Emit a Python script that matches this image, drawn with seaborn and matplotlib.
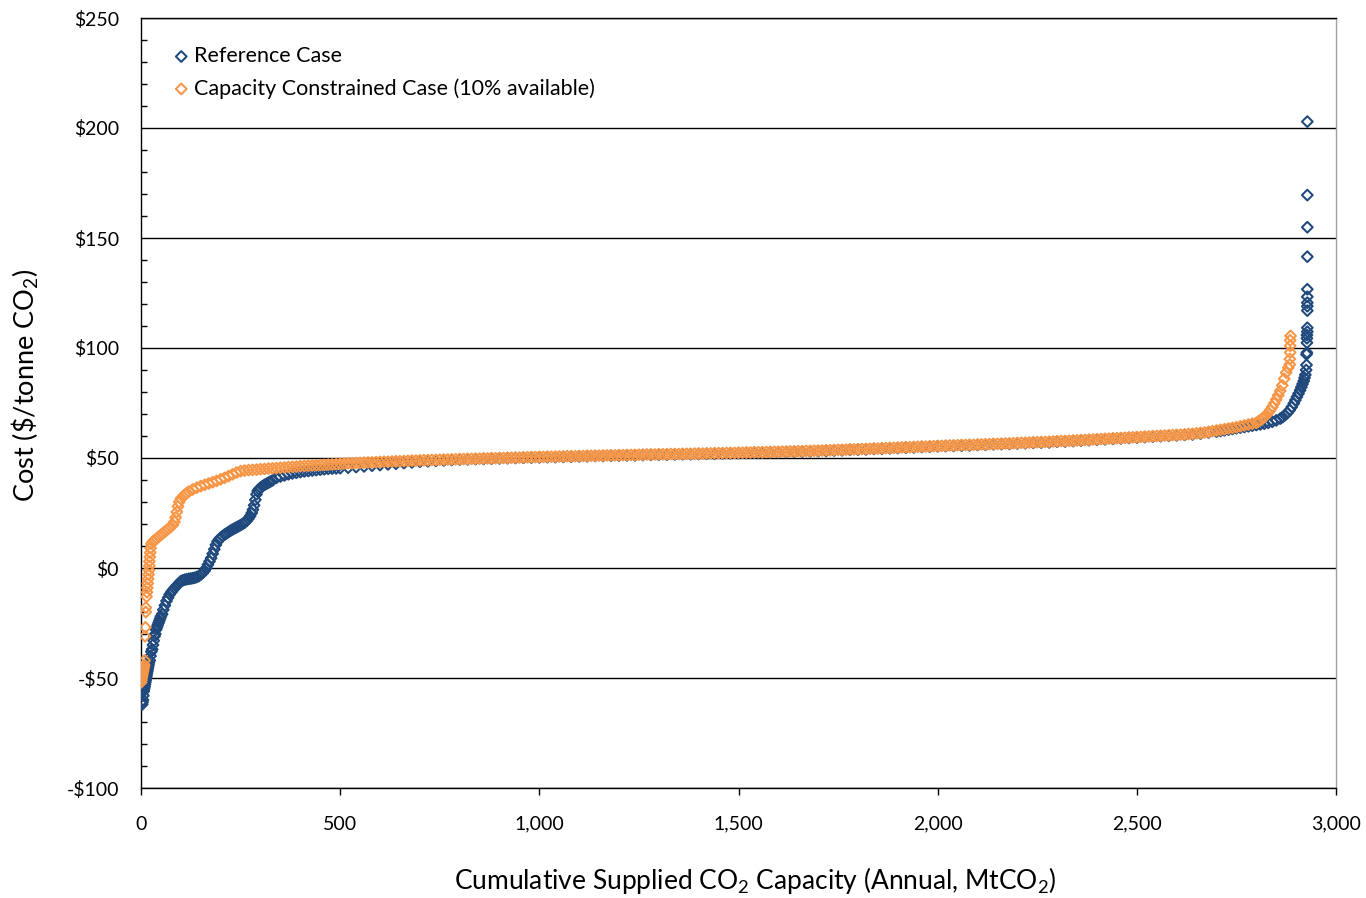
import numpy as np
import pandas as pd
import matplotlib
matplotlib.use("Agg")
import matplotlib.pyplot as plt
import seaborn as sns
from matplotlib.ticker import FuncFormatter, MultipleLocator

# ---------------- data ----------------
series_names = ["Reference Case", "Capacity Constrained Case (10% available)"]
series_colors = ["#1F497D", "#F79646"]

ref_capacity = [
    3, 4, 5, 6, 7, 8, 9, 10, 11, 12, 13, 14, 15, 16, 17, 18, 19, 20,
    22, 24, 26, 28, 30, 32, 34, 36, 38, 40, 42, 44, 46, 48, 50,
    53, 56, 60, 64, 68, 72, 76, 80,
    85, 90, 95, 100, 105, 110, 115, 120, 125, 130, 135, 140, 145, 150, 155, 160,
    164, 168, 172, 176, 180, 184, 188, 192, 196,
    200, 205, 210, 215, 220, 225, 230, 235, 240, 245, 250, 255, 260, 265, 270,
    274, 278, 281, 284, 287, 290, 293, 296,
    300, 305, 310, 315, 320, 325, 330,
    340, 350, 360, 370, 380, 390, 400, 410, 420, 430, 440, 450, 460, 470, 480, 490,
    500, 520, 540, 560, 580, 600, 620, 640, 660, 680,
    700, 720, 740, 760, 780, 800, 820, 840, 860, 880,
    900, 920, 940, 960, 980, 1000, 1020, 1040, 1060, 1080,
    1100, 1120, 1140, 1160, 1180, 1200, 1220, 1240, 1260, 1280,
    1300, 1320, 1340, 1360, 1380, 1400, 1420, 1440, 1460, 1480,
    1500, 1520, 1540, 1560, 1580, 1600, 1620, 1640, 1660, 1680,
    1700, 1720, 1740, 1760, 1780, 1800, 1820, 1840, 1860, 1880,
    1900, 1920, 1940, 1960, 1980, 2000, 2020, 2040, 2060, 2080,
    2100, 2120, 2140, 2160, 2180, 2200, 2220, 2240, 2260, 2280,
    2300, 2320, 2340, 2360, 2380, 2400, 2420, 2440, 2460, 2480,
    2500, 2520, 2540, 2560, 2580, 2600, 2620, 2640, 2660, 2680,
    2700, 2710, 2720, 2730, 2740, 2750, 2760, 2770, 2780, 2790,
    2800, 2810, 2820, 2830, 2840, 2850, 2860,
    2866, 2872, 2878, 2884, 2889, 2894, 2898, 2902, 2906, 2910,
    2913, 2916, 2919, 2921, 2923,
    2925, 2926, 2926, 2927, 2927, 2927, 2927, 2928, 2928, 2928, 2928, 2928,
    2928, 2928, 2928, 2928, 2928, 2928,
]
ref_cost = [
    -62, -61, -60, -58, -56, -55, -54, -53, -52, -51, -50, -49, -48, -47, -46, -45, -44, -43,
    -42, -40, -38, -37, -35, -33, -31, -30, -28, -27, -26, -25, -24, -23, -22,
    -21, -19, -17, -15, -13.5, -12, -11, -10,
    -9, -8, -7, -6, -5.6, -5.3, -5.1, -4.9, -4.8, -4.6, -4.4, -4.1, -3.7, -3.0, -2.2, -1.2,
    0, 1.5, 3, 4.5, 6.5, 8.5, 10.5, 12, 13,
    13.8, 14.5, 15.2, 15.8, 16.4, 17, 17.5, 18, 18.5, 19, 19.5, 20, 20.6, 21.4, 22.5,
    23.6, 25, 26.5, 28.5, 31, 33.5, 35, 35.8,
    36.5, 37.2, 37.8, 38.3, 38.8, 39.3, 39.8,
    41, 41.6, 42.1, 42.6, 43, 43.3, 43.6, 43.9, 44.1, 44.3, 44.5, 44.7, 44.9, 45.1, 45.2, 45.3,
    45.4, 45.6, 45.9, 46.2, 46.5, 46.8, 47.1, 47.4, 47.7, 48.0,
    48.3, 48.5, 48.7, 48.9, 49.1, 49.3, 49.4, 49.5, 49.6, 49.7,
    49.8, 49.9, 50.0, 50.1, 50.2, 50.3, 50.4, 50.4, 50.5, 50.6,
    50.7, 50.8, 50.9, 50.9, 51.0, 51.1, 51.2, 51.2, 51.3, 51.4,
    51.5, 51.5, 51.6, 51.7, 51.7, 51.8, 51.9, 51.9, 52.0, 52.1,
    52.2, 52.3, 52.4, 52.4, 52.6, 52.6, 52.7, 52.8, 52.9, 53.0,
    53.1, 53.2, 53.4, 53.5, 53.7, 53.8, 53.9, 54.1, 54.2, 54.4,
    54.5, 54.7, 54.8, 55.0, 55.1, 55.3, 55.4, 55.5, 55.6, 55.7,
    55.9, 56.0, 56.2, 56.3, 56.4, 56.6, 56.7, 56.9, 57.0, 57.1,
    57.4, 57.5, 57.7, 57.9, 58.1, 58.3, 58.5, 58.7, 58.9, 59.1,
    59.3, 59.5, 59.7, 59.9, 60.1, 60.3, 60.5, 60.7, 61.1, 61.6,
    62.0, 62.3, 62.6, 62.9, 63.2, 63.5, 63.8, 64.1, 64.4, 64.7,
    65.0, 65.3, 65.6, 66.0, 66.5, 67.1, 67.9,
    68.6, 69.5, 70.5, 71.8, 73.2, 74.8, 76.3, 77.8, 79.3, 80.8,
    82.2, 83.6, 85.0, 86.4, 87.8,
    90, 92.3, 97.1, 97.9, 102.4, 104.4, 105.9, 107.4, 109.2, 117, 119, 120.6,
    123.3, 126.7, 141.5, 154.9, 169.5, 202.9,
]

cc_capacity = [
    0, 1, 2, 3, 4, 5, 6, 7, 8, 9, 10, 11, 12, 12,
    14, 15, 16, 17, 18, 19, 20, 21, 21, 22, 23, 24, 26,
    30, 35, 40, 45, 50, 55, 60, 65, 70, 75, 80, 84, 87, 90, 93, 96,
    100, 105, 110, 115, 120,
    130, 140, 150, 160, 170, 180, 190, 200, 210, 220, 230, 240, 250, 260, 270, 280,
    290, 300, 310, 320, 330, 340, 350, 360, 370, 380, 390, 400, 410, 420, 430, 440,
    450, 460, 470, 480, 490,
    500, 510, 520, 530, 540, 550, 560, 570, 580, 590,
    600, 610, 620, 630, 640, 650, 660, 670, 680, 690,
    700, 710, 720, 730, 740, 750, 760, 770, 780, 790,
    800, 810, 820, 830, 840, 850, 860, 870, 880, 890,
    900, 910, 920, 930, 940, 950, 960, 970, 980, 990,
    1000, 1010, 1020, 1030, 1040, 1050, 1060, 1070, 1080, 1090,
    1100, 1110, 1120, 1130, 1140, 1150, 1160, 1170, 1180, 1190,
    1200, 1210, 1220, 1230, 1240, 1250, 1260, 1270, 1280, 1290,
    1300, 1310, 1320, 1330, 1340, 1350, 1360, 1370, 1380, 1390,
    1400, 1410, 1420, 1430, 1440, 1450, 1460, 1470, 1480, 1490,
    1500, 1510, 1520, 1530, 1540, 1550, 1560, 1570, 1580, 1590,
    1600, 1610, 1620, 1630, 1640, 1650, 1660, 1670, 1680, 1690,
    1700, 1710, 1720, 1730, 1740, 1750, 1760, 1770, 1780, 1790,
    1800, 1810, 1820, 1830, 1840, 1850, 1860, 1870, 1880, 1890,
    1900, 1910, 1920, 1930, 1940, 1950, 1960, 1970, 1980, 1990,
    2000, 2010, 2020, 2030, 2040, 2050, 2060, 2070, 2080, 2090,
    2100, 2110, 2120, 2130, 2140, 2150, 2160, 2170, 2180, 2190,
    2200, 2210, 2220, 2230, 2240, 2250, 2260, 2270, 2280, 2290,
    2300, 2310, 2320, 2330, 2340, 2350, 2360, 2370, 2380, 2390,
    2400, 2410, 2420, 2430, 2440, 2450, 2460, 2470, 2480, 2490,
    2500, 2510, 2520, 2530, 2540, 2550, 2560, 2570, 2580, 2590,
    2600, 2610, 2620, 2630, 2640, 2650, 2660, 2670, 2680, 2690,
    2700, 2710, 2720, 2730, 2740, 2750, 2760, 2770, 2780, 2790,
    2800, 2805, 2810, 2815, 2820, 2825, 2830, 2835, 2840, 2845,
    2850, 2855, 2860, 2865, 2870, 2875, 2880,
    2884, 2884, 2885, 2885, 2885, 2886,
]
cc_cost = [
    -52, -51, -50, -49, -48, -47, -46, -45, -44, -42, -31, -27, -20, -18,
    -13, -11, -9, -7, -5, -3, -1, 1, 3, 5, 7, 9, 11,
    12, 12.8, 13.5, 14.3, 15, 15.8, 16.5, 17.3, 18, 18.8, 19.6, 21, 23, 25.5, 28, 30,
    31.5, 32.5, 33.3, 34, 34.7,
    35.7, 36.5, 37.2, 37.8, 38.4, 39, 39.6, 40.3, 41, 41.8, 42.6, 43.4, 44, 44.3, 44.5, 44.6,
    44.7, 44.9, 45.0, 45.2, 45.3, 45.4, 45.6, 45.7, 45.9, 46.0, 46.1, 46.3, 46.4, 46.5, 46.6, 46.7,
    46.8, 46.9, 47.0, 47.1, 47.2,
    47.4, 47.5, 47.6, 47.6, 47.7, 47.8, 47.9, 48.0, 48.0, 48.1,
    48.2, 48.3, 48.3, 48.4, 48.5, 48.5, 48.6, 48.7, 48.8, 48.8,
    48.9, 49.0, 49.0, 49.1, 49.1, 49.2, 49.3, 49.3, 49.4, 49.4,
    49.5, 49.5, 49.6, 49.6, 49.7, 49.7, 49.8, 49.8, 49.9, 49.9,
    50.0, 50.0, 50.1, 50.1, 50.2, 50.2, 50.3, 50.3, 50.4, 50.4,
    50.5, 50.5, 50.6, 50.6, 50.6, 50.7, 50.7, 50.8, 50.8, 50.8,
    50.9, 50.9, 51.0, 51.0, 51.0, 51.1, 51.1, 51.2, 51.2, 51.2,
    51.3, 51.3, 51.4, 51.4, 51.4, 51.5, 51.5, 51.6, 51.6, 51.6,
    51.7, 51.7, 51.7, 51.8, 51.8, 51.8, 51.9, 51.9, 51.9, 52.0,
    52.0, 52.0, 52.1, 52.1, 52.2, 52.2, 52.2, 52.3, 52.3, 52.3,
    52.4, 52.4, 52.5, 52.5, 52.6, 52.6, 52.6, 52.7, 52.7, 52.8,
    52.8, 52.9, 52.9, 53.0, 53.0, 53.1, 53.1, 53.2, 53.2, 53.3,
    53.3, 53.4, 53.5, 53.5, 53.6, 53.7, 53.7, 53.8, 53.9, 53.9,
    54.0, 54.1, 54.1, 54.2, 54.3, 54.3, 54.4, 54.5, 54.6, 54.6,
    54.7, 54.8, 54.9, 54.9, 55.0, 55.1, 55.2, 55.2, 55.3, 55.4,
    55.5, 55.5, 55.6, 55.7, 55.7, 55.8, 55.9, 55.9, 56.0, 56.0,
    56.1, 56.2, 56.2, 56.3, 56.4, 56.4, 56.5, 56.6, 56.6, 56.7,
    56.8, 56.9, 56.9, 57.0, 57.1, 57.2, 57.2, 57.3, 57.4, 57.5,
    57.6, 57.7, 57.7, 57.8, 57.9, 58.0, 58.1, 58.2, 58.3, 58.4,
    58.5, 58.6, 58.7, 58.8, 58.9, 59.0, 59.1, 59.2, 59.3, 59.4,
    59.5, 59.6, 59.7, 59.8, 59.9, 60.0, 60.1, 60.2, 60.3, 60.4,
    60.5, 60.6, 60.7, 60.9, 61.0, 61.2, 61.4, 61.6, 61.9, 62.2,
    62.5, 62.8, 63.1, 63.4, 63.7, 64.0, 64.4, 64.8, 65.2, 65.6,
    66.0, 66.6, 67.2, 67.9, 68.6, 69.5, 70.6, 71.8, 73.2, 74.8,
    76.6, 78.5, 80.5, 83.0, 86.0, 88.8, 91.0,
    92.5, 95.0, 98.0, 101.0, 103.5, 105.5,
]

x_ticks = [0, 500, 1000, 1500, 2000, 2500, 3000]
y_ticks = [-100, -50, 0, 50, 100, 150, 200, 250]

# ---------------- figure ----------------
sns.set_style("white")
plt.rcParams["font.family"] = ["Lato", "DejaVu Sans"]
plt.rcParams["mathtext.fontset"] = "custom"
plt.rcParams["mathtext.rm"] = "Lato"
plt.rcParams["mathtext.default"] = "regular"
plt.rcParams["text.color"] = "black"
plt.rcParams["axes.labelcolor"] = "black"
plt.rcParams["xtick.color"] = "black"
plt.rcParams["ytick.color"] = "black"

df = pd.concat([
    pd.DataFrame({"capacity": ref_capacity, "cost": ref_cost, "case": series_names[0]}),
    pd.DataFrame({"capacity": cc_capacity, "cost": cc_cost, "case": series_names[1]}),
], ignore_index=True)

fig = plt.figure(figsize=(13.66, 8.98), dpi=100)
ax = fig.add_axes([141 / 1366, 1 - 788 / 898, 1195 / 1366, 770 / 898])

for name, col in zip(series_names, series_colors):
    sub = df[df["case"] == name]
    sns.scatterplot(data=sub, x="capacity", y="cost", ax=ax, marker="D", s=30,
                    color=col, facecolor="none", edgecolor=col, linewidth=1.45,
                    label=name, zorder=3)

ax.set_xlim(0, 3000)
ax.set_ylim(-100, 250)
ax.set_xticks(x_ticks)
ax.set_yticks(y_ticks)
ax.yaxis.set_minor_locator(MultipleLocator(10))
ax.xaxis.set_major_formatter(FuncFormatter(lambda v, p: f"{v:,.0f}"))
ax.yaxis.set_major_formatter(FuncFormatter(
    lambda v, p: ("-" if v < 0 else "") + "\\$" + f"{abs(v):,.0f}"))

ax.set_axisbelow(True)
ax.grid(axis="y", which="major", color="black", linewidth=1.0)
ax.grid(axis="x", visible=False)

ax.tick_params(axis="y", which="major", direction="out", length=6, width=1,
               color="black", labelcolor="black", labelsize=14, pad=10)
ax.tick_params(axis="y", which="minor", direction="in", length=4, width=1,
               color="black", left=True)
ax.tick_params(axis="x", which="major", direction="out", length=5, width=1,
               color="black", labelcolor="black", labelsize=14, pad=15, bottom=True)

for side in ["left", "bottom", "top"]:
    ax.spines[side].set_color("black")
    ax.spines[side].set_linewidth(1.0)
ax.spines["right"].set_color("#A0A0A0")
ax.spines["right"].set_linewidth(1.0)

ax.set_ylabel(r"Cost (\$/tonne CO$_2$)", fontsize=19.5, color="black")
ax.set_xlabel(r"Cumulative Supplied CO$_2$ Capacity (Annual, MtCO$_2$)", fontsize=19,
              color="black")
ax.yaxis.set_label_coords(-0.084, 0.523)
ax.xaxis.set_label_coords(0.514, -0.100)

leg = ax.legend(loc="upper left", bbox_to_anchor=(0.01, 0.983), frameon=False,
                fontsize=15.5, handletextpad=0.0, labelspacing=0.55,
                scatterpoints=1, borderaxespad=0.3, handlelength=1.23)
for t in leg.get_texts():
    t.set_color("black")

fig.savefig("out.png", dpi=100)
